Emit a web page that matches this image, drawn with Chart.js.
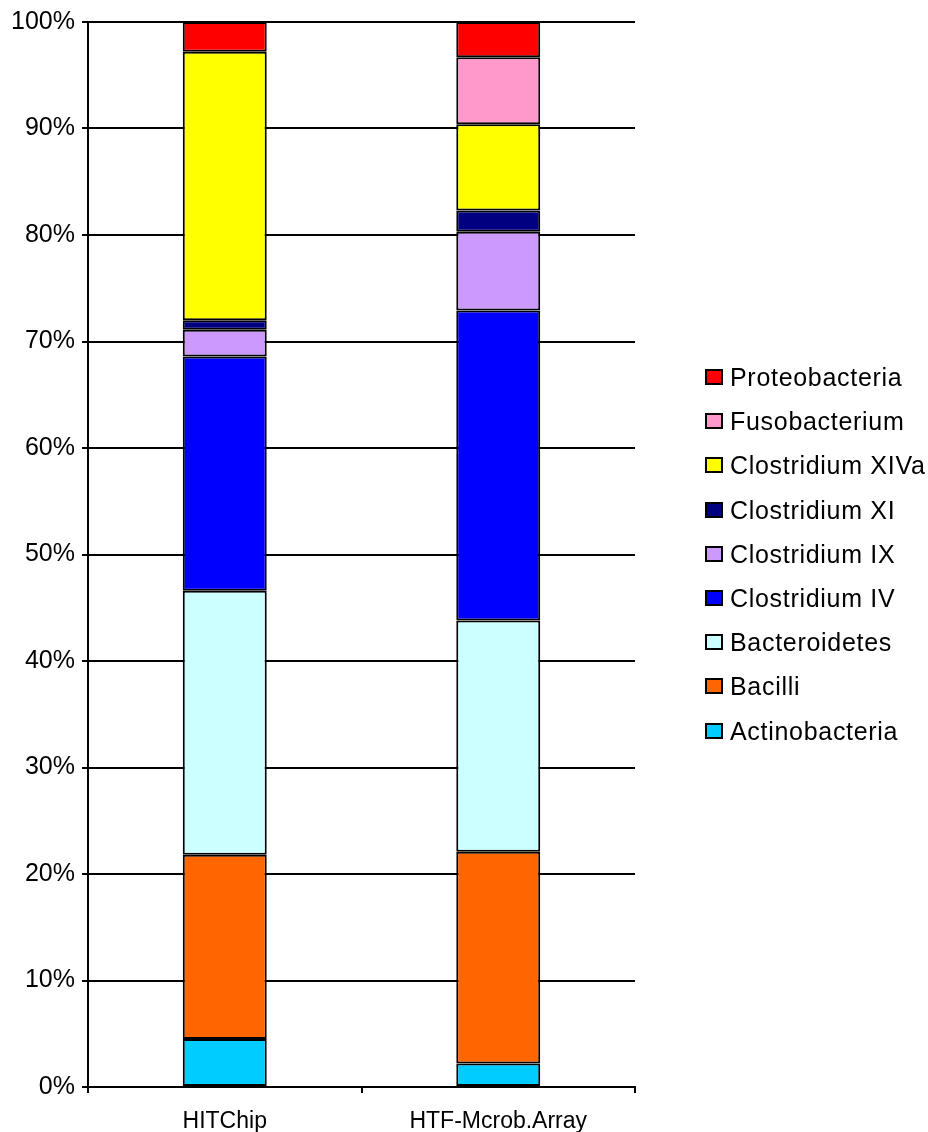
<!DOCTYPE html>
<html>
<head>
<meta charset="utf-8">
<script src="https://cdn.jsdelivr.net/npm/chart.js@4"></script>
<style>
  body { margin: 0; background: #fff; }
  #wrap { position: relative; width: 928px; height: 1132px; }
  #legend { position: absolute; left: 705px; top: 355px; font-family: "Liberation Sans", Arial, sans-serif; font-size: 25px; letter-spacing: 0.7px; color: #000; }
  #legend div { height: 44.2px; line-height: 30px; display: flex; align-items: center; white-space: nowrap; }
  #legend span.box { display: inline-block; width: 14px; height: 12px; border: 2px solid #000; margin: 0 7px 0 0; }
</style>
</head>
<body>
<div id="wrap">
  <canvas id="chart" width="928" height="1132"></canvas>
  <div id="legend"></div>
</div>
<script>
// Chip platforms on the x axis
const platforms = ['HITChip', 'HTF-Mcrob.Array'];

// Share of each group (%), bottom to top of the stack
const groups = ['Actinobacteria', 'Bacilli', 'Bacteroidetes', 'Clostridium IV', 'Clostridium IX',
                'Clostridium XI', 'Clostridium XIVa', 'Fusobacterium', 'Proteobacteria'];
const hitchip = [4.5, 17.3, 24.8, 22.0, 2.5, 0.9, 25.2, 0.0, 2.8];
const htfArray = [2.2, 19.9, 21.7, 29.1, 7.4, 2.0, 8.1, 6.3, 3.3];
const groupColors = ['#00CCFF', '#FF6600', '#CCFFFF', '#0000FF', '#CC99FF',
                     '#000080', '#FFFF00', '#FF99CC', '#FF0000'];

const yTicks = [0, 10, 20, 30, 40, 50, 60, 70, 80, 90, 100];

const datasets = groups.map((name, i) => ({
    label: name,
    data: [hitchip[i], htfArray[i]],
    backgroundColor: groupColors[i],
    borderColor: '#000',
    borderWidth: 2,
    borderSkipped: false,
    categoryPercentage: 1,
    barPercentage: 0.307
}));

const family = '"Liberation Sans", Arial, sans-serif';

new Chart(document.getElementById('chart').getContext('2d'), {
    type: 'bar',
    data: { labels: platforms, datasets: datasets },
    options: {
        responsive: false,
        animation: false,
        layout: { padding: { top: 22, right: 293, left: 0, bottom: 0 } },
        plugins: { legend: { display: false }, tooltip: { enabled: false } },
        scales: {
            x: {
                stacked: true,
                grid: { display: true, drawOnChartArea: false, drawTicks: true, tickLength: 6, color: '#000', lineWidth: 2, offset: true },
                border: { color: '#000', width: 2 },
                ticks: { color: '#000', font: { family: family, size: 23 }, padding: 15 },
                afterFit: axis => { axis.height = 45; }
            },
            y: {
                stacked: true,
                min: 0,
                max: 100,
                afterBuildTicks: axis => { axis.ticks = yTicks.map(v => ({ value: v })); },
                grid: { color: '#000', lineWidth: 2, tickLength: 6 },
                border: { color: '#000', width: 2 },
                ticks: { color: '#000', font: { family: family, size: 25 }, padding: 7, callback: v => v + '%' },
                afterFit: axis => { axis.width = 88; }
            }
        }
    }
});

// Legend listed top-down in stack order
const legend = document.getElementById('legend');
for (let i = groups.length - 1; i >= 0; i--) {
    const row = document.createElement('div');
    const box = document.createElement('span');
    box.className = 'box';
    box.style.background = groupColors[i];
    row.appendChild(box);
    row.appendChild(document.createTextNode(groups[i]));
    legend.appendChild(row);
}
</script>
</body>
</html>
